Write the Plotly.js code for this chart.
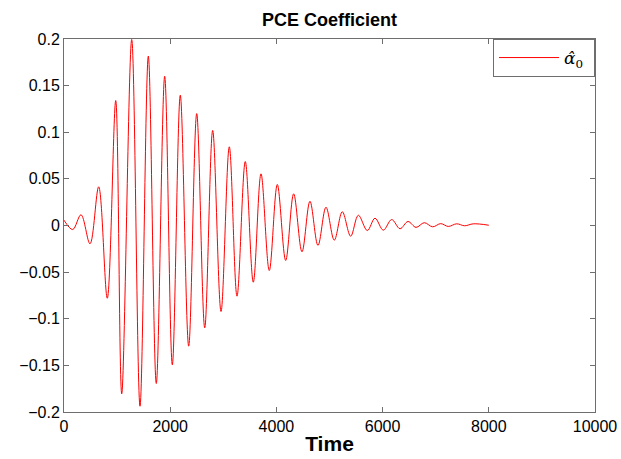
<!DOCTYPE html>
<html><head><meta charset="utf-8">
<script src="https://cdn.plot.ly/plotly-3.0.1.min.js"></script>
<style>html,body{margin:0;padding:0;background:#fff;}#chart{width:621px;height:459px;}</style>
</head><body><div id="chart"></div>
<script>
// Extrema (time, coefficient value)
var time = [0, 164, 320, 490, 653, 815, 974, 1087, 1275, 1431, 1588, 1738, 1896, 2040, 2190, 2348, 2499, 2650, 2800, 2957, 3113, 3258, 3414, 3565, 3710, 3866, 4017, 4175, 4325, 4482, 4632, 4783, 4934, 5090, 5241, 5399, 5543, 5712, 5857, 6013, 6171, 6328, 6478, 6629, 6785, 6943, 7094, 7237, 7395, 7546, 7708, 8000];
var alpha0 = [0.0057, -0.0043, 0.0115, -0.0196, 0.0415, -0.078, 0.134, -0.1805, 0.1995, -0.1938, 0.1816, -0.1694, 0.160, -0.1494, 0.1397, -0.1294, 0.120, -0.1097, 0.1019, -0.0922, 0.0844, -0.0758, 0.0686, -0.0608, 0.0554, -0.0483, 0.044, -0.0375, 0.034, -0.0282, 0.026, -0.0214, 0.0196, -0.0157, 0.0147, -0.0115, 0.011, -0.0054, 0.0078, -0.005, 0.0064, -0.0035, 0.0043, -0.002, 0.003, -0.0014, 0.002, -0.001, 0.0018, -0.0003, 0.0018, 0.0003];
var xTicks = [0, 2000, 4000, 6000, 8000, 10000];
var yTicks = [-0.2, -0.15, -0.1, -0.05, 0, 0.05, 0.1, 0.15, 0.2];
var yTickText = ['\u22120.2', '\u22120.15', '\u22120.1', '\u22120.05', '0', '0.05', '0.1', '0.15', '0.2'];
var seriesName = '<i>\u03B1\u0302</i><sub>0</sub>\u00A0';

var axisCommon = {
  showline: true, mirror: 'ticks', linecolor: '#6e6e6e', linewidth: 1,
  ticks: 'inside', ticklen: 5, tickcolor: '#6e6e6e', showgrid: false, zeroline: false,
  tickfont: {family: 'Liberation Sans, Arial, sans-serif', size: 16, color: '#000'}
};

var trace = {
  x: time, y: alpha0, type: 'scatter', mode: 'lines', name: seriesName,
  line: {color: '#ff0000', width: 1, shape: 'spline', smoothing: 1.0}
};

var layout = {
  width: 621, height: 459,
  margin: {l: 64, r: 26, t: 39, b: 47},
  paper_bgcolor: '#fff', plot_bgcolor: '#fff',
  title: {text: '<b>PCE Coefficient</b>', font: {family: 'Liberation Sans, Arial, sans-serif', size: 18, color: '#000'}, x: 0.5306, xanchor: 'center', y: 0.957, yanchor: 'middle'},
  xaxis: Object.assign({}, axisCommon, {
    range: [0, 10000], tickvals: xTicks, ticktext: xTicks.map(String),
    title: {text: '<b>Time</b>', font: {family: 'Liberation Sans, Arial, sans-serif', size: 21, color: '#000'}, standoff: 2}
  }),
  yaxis: Object.assign({}, axisCommon, {
    range: [-0.2, 0.2], tickvals: yTicks, ticktext: yTickText
  }),
  showlegend: true,
  legend: {
    x: 1, y: 1, xanchor: 'right', yanchor: 'top',
    bgcolor: '#fff', bordercolor: '#6e6e6e', borderwidth: 1,
    font: {family: 'DejaVu Serif, serif', size: 17, color: '#000'},
    itemwidth: 60
  }
};

Plotly.newPlot('chart', [trace], layout, {displayModeBar: false, staticPlot: true});
</script>
</body></html>
